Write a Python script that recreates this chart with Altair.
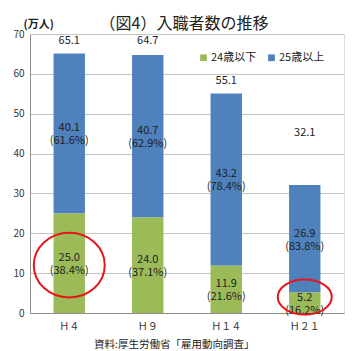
import altair as alt
import pandas as pd

# ---- data ----
periods = ["Ｈ４", "Ｈ９", "Ｈ１４", "Ｈ２１"]
under24 = [25.0, 24.0, 11.9, 5.2]
over25 = [40.1, 40.7, 43.2, 26.9]
under24_pct = ["38.4%", "37.1%", "21.6%", "16.2%"]
over25_pct = ["61.6%", "62.9%", "78.4%", "83.8%"]
totals = [65.1, 64.7, 55.1, 32.1]
total_label_at = [68.2, 68.2, 58.2, 45.2]
series = ["24歳以下", "25歳以上"]
colors = ["#9BBB59", "#4F81BD"]
circled = ["Ｈ４", "Ｈ２１"]
circle_at = [12.0, 4.0]
y_ticks = [0, 10, 20, 30, 40, 50, 60, 70]

FONT = "Noto Sans CJK JP"

rows = []
for i, p in enumerate(periods):
    rows.append(dict(period=p, series=series[0], order=0, start=0.0, end=under24[i],
                     mid=under24[i] / 2, label=f"{under24[i]:.1f}\n({under24_pct[i]})"))
    rows.append(dict(period=p, series=series[1], order=1, start=under24[i],
                     end=under24[i] + over25[i], mid=under24[i] + over25[i] / 2,
                     label=f"{over25[i]:.1f}\n({over25_pct[i]})"))
df = pd.DataFrame(rows)
tot = pd.DataFrame({"period": periods, "total": [f"{t:.1f}" for t in totals], "at": total_label_at})

x_axis = alt.Axis(title="資料:厚生労働省「雇用動向調査」", titleFont=FONT, titleFontSize=10.5,
                  titleFontWeight="normal", titleColor="#222", titleAnchor="end",
                  titleAlign="right", titleX=224, titleY=31, titleBaseline="middle",
                  labelAngle=0, labelFont=FONT, labelFontSize=10, labelColor="#333",
                  labelPadding=8, ticks=False, domainColor="#8c8c8c", grid=False)
y_axis = alt.Axis(values=y_ticks, title="(万人)", titleAngle=0,
                  titleFont=FONT, titleFontSize=11, titleFontWeight="bold",
                  titleColor="#222", titleAlign="left", titleX=-7, titleY=-10,
                  titleBaseline="middle", labelOverlap=False,
                  labelFont=FONT, labelFontSize=10, labelColor="#333", labelPadding=6,
                  ticks=False, domainColor="#8c8c8c", gridColor="#c4c4c4")

x_scale = alt.Scale(paddingInner=0.6, paddingOuter=0.3)
y_scale = alt.Scale(domain=[0, 70], nice=False)


def X():
    return alt.X("period:N", sort=periods, scale=x_scale, axis=x_axis)


def Y(field):
    return alt.Y(field, scale=y_scale, axis=y_axis)


bars = alt.Chart(df).mark_bar().encode(
    x=X(),
    y=Y("start:Q"),
    y2="end:Q",
    color=alt.Color("series:N", scale=alt.Scale(domain=series, range=colors),
                    legend=alt.Legend(title=None, orient="none", legendX=168, legendY=18,
                                      direction="horizontal", symbolType="square",
                                      symbolSize=45, symbolStrokeWidth=0,
                                      labelFont=FONT, labelFontSize=11, labelColor="#222",
                                      columnPadding=9, labelOffset=2)),
    order="order:Q",
)

seg_text = alt.Chart(df).mark_text(font=FONT, fontSize=11, color="#1e1e1e", dy=-5,
                                   lineBreak="\n", lineHeight=13, baseline="middle").encode(
    x=X(), y=Y("mid:Q"), text="label:N")

tot_text = alt.Chart(tot).mark_text(font=FONT, fontSize=11, color="#1e1e1e",
                                    baseline="middle").encode(
    x=X(), y=Y("at:Q"), text="total:N")


def ellipse(ry):
    k = 0.5523
    return (f"M -1 0 C -1 {-k*ry:.3f} {-k:.3f} {-ry:.3f} 0 {-ry:.3f} "
            f"C {k:.3f} {-ry:.3f} 1 {-k*ry:.3f} 1 0 "
            f"C 1 {k*ry:.3f} {k:.3f} {ry:.3f} 0 {ry:.3f} "
            f"C {-k:.3f} {ry:.3f} -1 {k*ry:.3f} -1 0 Z")


c1 = alt.Chart(pd.DataFrame({"period": [circled[0]], "at": [circle_at[0]]})).mark_point(
    shape=ellipse(0.91), size=71 * 71, filled=False, stroke="#E8141B", strokeWidth=2, opacity=1
).encode(x=X(), y=Y("at:Q"))
c2 = alt.Chart(pd.DataFrame({"period": [circled[1]], "at": [circle_at[1]]})).mark_point(
    shape=ellipse(0.65), size=54 * 54, filled=False, stroke="#E8141B", strokeWidth=2, opacity=1
).encode(x=X(), y=Y("at:Q"))

chart = alt.layer(bars, seg_text, tot_text, c1, c2).properties(
    width=314, height=279,
    title=alt.TitleParams("（図4）入職者数の推移", font=FONT, fontSize=16, fontWeight="normal",
                          color="#222", anchor="middle", dx=-3, offset=-14),
    autosize=alt.AutoSizeParams(type="none"),
    padding={"left": 30, "top": 34, "right": 9, "bottom": 38},
).configure_view(stroke=None).configure(background="white")

chart.save("out.html", embed_options={"renderer": "svg", "actions": False})
